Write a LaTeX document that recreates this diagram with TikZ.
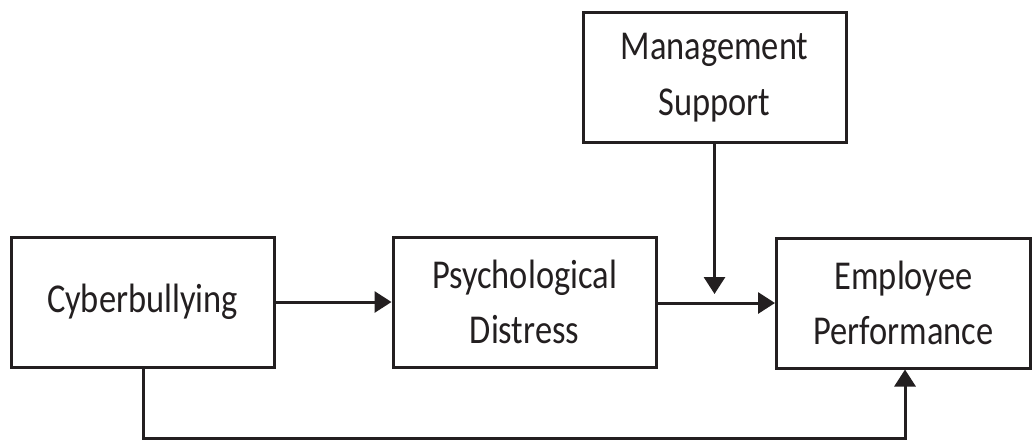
\documentclass[tikz,border=0pt]{standalone}
\usepackage{fontspec}
\setmainfont[FakeStretch=0.84]{Carlito}
\usetikzlibrary{arrows.meta,positioning}
\definecolor{ink}{HTML}{231F20}

\begin{document}
\begin{tikzpicture}[x=0.5pt,y=-0.5pt,
    box/.style={draw=ink,line width=1.5pt,rectangle,text=ink,align=center,
        minimum height=65pt,inner sep=0pt,font=\fontsize{20.5}{27.8}\selectfont},
    link/.style={draw=ink,line width=1.5pt,-{Triangle[length=8.5pt,width=10.5pt]}}]
\useasboundingbox (0,0) rectangle (1032,440);
% Boxes
\node[box,minimum width=131.5pt] (cyber) at (142.5,302) {Cyberbullying};
\node[box,minimum width=131.5pt] (psych) at (524.5,302) {Psychological\\Distress};
\node[box,minimum width=127pt] (perf) at (903.5,303) {Employee\\Performance};
\node[box,minimum width=131.5pt] (mgmt) at (714.5,77.5) {Management\\Support};
% Moderator target
\coordinate (join) at (714.5,294);
% Paths
\draw[link] (cyber) -- (psych);
\draw[link] (psych.east |- perf.west) -- (perf.west);
\draw[link] (mgmt.south -| join) -- (join);
\draw[link] (cyber.south -| 143,0) -- (143,438.5) -| (perf.south -| 905,0);
\end{tikzpicture}
\end{document}
